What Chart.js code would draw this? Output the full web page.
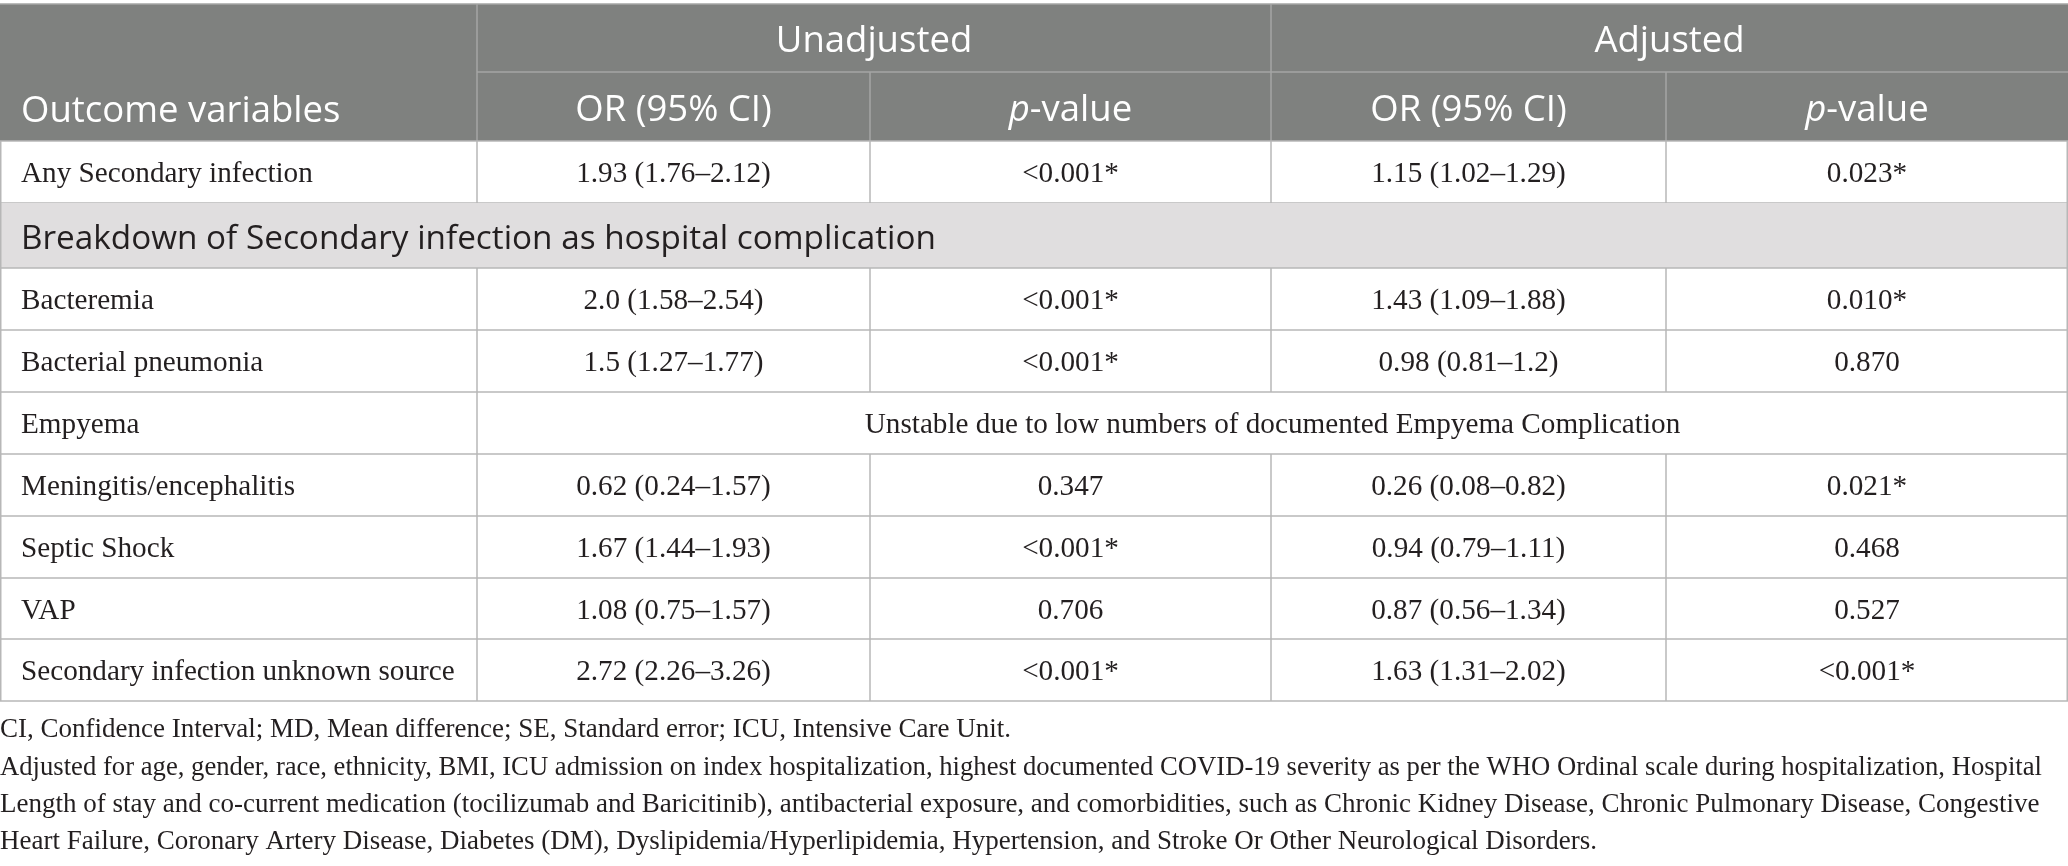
<!DOCTYPE html>
<html>
<head>
<meta charset="utf-8">
<script src="https://cdn.jsdelivr.net/npm/chart.js@4.4.1/dist/chart.umd.min.js"></script>
<style>
  html, body { margin: 0; padding: 0; background: #fff; }
  canvas { display: block; }
</style>
</head>
<body>
<canvas id="table" width="2068" height="866"></canvas>
<script>
// table content
const groupHeaders = ['Unadjusted', 'Adjusted'];
const columnHeaders = ['Outcome variables', 'OR (95% CI)', 'p-value', 'OR (95% CI)', 'p-value'];
const sectionTitle = 'Breakdown of Secondary infection as hospital complication';
const sectionBefore = 1; // section row goes before this outcome
const outcomes = [
  'Any Secondary infection',
  'Bacteremia',
  'Bacterial pneumonia',
  'Empyema',
  'Meningitis/encephalitis',
  'Septic Shock',
  'VAP',
  'Secondary infection unknown source'
];
const unadjustedOR = ['1.93 (1.76–2.12)', '2.0 (1.58–2.54)', '1.5 (1.27–1.77)', null, '0.62 (0.24–1.57)', '1.67 (1.44–1.93)', '1.08 (0.75–1.57)', '2.72 (2.26–3.26)'];
const unadjustedP = ['<0.001*', '<0.001*', '<0.001*', null, '0.347', '<0.001*', '0.706', '<0.001*'];
const adjustedOR = ['1.15 (1.02–1.29)', '1.43 (1.09–1.88)', '0.98 (0.81–1.2)', null, '0.26 (0.08–0.82)', '0.94 (0.79–1.11)', '0.87 (0.56–1.34)', '1.63 (1.31–2.02)'];
const adjustedP = ['0.023*', '0.010*', '0.870', null, '0.021*', '0.468', '0.527', '<0.001*'];
const unstableNote = 'Unstable due to low numbers of documented Empyema Complication';
const footnotes = [
  'CI, Confidence Interval; MD, Mean difference; SE, Standard error; ICU, Intensive Care Unit.',
  'Adjusted for age, gender, race, ethnicity, BMI, ICU admission on index hospitalization, highest documented COVID-19 severity as per the WHO Ordinal scale during hospitalization, Hospital',
  'Length of stay and co-current medication (tocilizumab and Baricitinib), antibacterial exposure, and comorbidities, such as Chronic Kidney Disease, Chronic Pulmonary Disease, Congestive',
  'Heart Failure, Coronary Artery Disease, Diabetes (DM), Dyslipidemia/Hyperlipidemia, Hypertension, and Stroke Or Other Neurological Disorders.'
];

// layout, in scale units
const colEdges = [0, 477, 870, 1271, 1666, 2068];
const rowEdges = [4, 72, 141, 203, 268, 330, 392, 454, 516, 578, 639, 701];
const footnoteY = [730, 768, 805, 842];
const footnoteWidth = 2042;
const textPad = 21;

const headerBg = '#7f817f';
const sectionBg = '#e0dedf';
const headerLine = '#a4a6a4';
const gridLine = '#b7b7b7';
const inkColor = '#231f20';
const sansFont = '"Open Sans", sans-serif';
const serifFont = '"Liberation Serif", serif';
const headFont = '36.5px ' + sansFont;
const sectionFont = '33.3px ' + sansFont;
const bodyFont = '29.2px ' + serifFont;
const noteFont = '27px ' + serifFont;

const tablePlugin = {
  id: 'tableCells',
  afterDraw(chart) {
    const { ctx, scales: { x, y } } = chart;
    const px = v => x.getPixelForValue(v);
    const py = v => y.getPixelForValue(v);

    const box = (x0, y0, x1, y1, color) => {
      ctx.fillStyle = color;
      ctx.fillRect(px(x0), py(y0), px(x1) - px(x0), py(y1) - py(y0));
    };
    const line = (x0, y0, x1, y1, color) => {
      ctx.strokeStyle = color;
      ctx.lineWidth = 1.5;
      ctx.beginPath();
      ctx.moveTo(px(x0), py(y0));
      ctx.lineTo(px(x1), py(y1));
      ctx.stroke();
    };
    const text = (str, cx, cy, align, font, color, maxW) => {
      ctx.font = font;
      ctx.fillStyle = color;
      ctx.textAlign = align;
      ctx.textBaseline = 'middle';
      if (maxW) ctx.fillText(str, px(cx), py(cy), maxW);
      else ctx.fillText(str, px(cx), py(cy));
    };
    // "p-value" with an italic p, centred as one piece
    const pValue = (cx, cy) => {
      const italic = 'italic ' + headFont;
      ctx.font = italic;
      const w1 = ctx.measureText('p').width;
      ctx.font = headFont;
      const w2 = ctx.measureText('-value').width;
      const left = px(cx) - (w1 + w2) / 2;
      ctx.fillStyle = '#fff';
      ctx.textBaseline = 'middle';
      ctx.textAlign = 'left';
      ctx.font = italic;
      ctx.fillText('p', left, py(cy));
      ctx.font = headFont;
      ctx.fillText('-value', left + w1, py(cy));
    };
    const mid = (a, b) => (a + b) / 2;
    const right = colEdges[colEdges.length - 1];

    ctx.save();

    // header block
    box(0, rowEdges[0], right, rowEdges[2], headerBg);
    line(colEdges[1], rowEdges[1], right, rowEdges[1], headerLine);
    line(colEdges[1], rowEdges[0], colEdges[1], rowEdges[2], headerLine);
    line(colEdges[3], rowEdges[0], colEdges[3], rowEdges[2], headerLine);
    line(colEdges[2], rowEdges[1], colEdges[2], rowEdges[2], headerLine);
    line(colEdges[4], rowEdges[1], colEdges[4], rowEdges[2], headerLine);

    const topY = mid(rowEdges[0], rowEdges[1]) + 4;
    const subY = mid(rowEdges[1], rowEdges[2]) + 4;
    text(groupHeaders[0], mid(colEdges[1], colEdges[3]), topY, 'center', headFont, '#fff');
    text(groupHeaders[1], mid(colEdges[3], colEdges[5]), topY, 'center', headFont, '#fff');
    text(columnHeaders[0], textPad, subY + 1, 'left', headFont, '#fff');
    for (let c = 1; c < columnHeaders.length; c++) {
      const cx = mid(colEdges[c], colEdges[c + 1]);
      if (columnHeaders[c] === 'p-value') pValue(cx, subY);
      else text(columnHeaders[c], cx, subY, 'center', headFont, '#fff');
    }

    // body rows
    const body = [];
    outcomes.forEach((name, i) => {
      if (i === sectionBefore) body.push({ section: true });
      body.push({ i });
    });
    body.forEach((row, k) => {
      const y0 = rowEdges[2 + k];
      const y1 = rowEdges[3 + k];
      const cy = mid(y0, y1) + 2.5;
      if (row.section) {
        box(0, y0, right, y1, sectionBg);
        text(sectionTitle, textPad, mid(y0, y1) + 4, 'left', sectionFont, inkColor);
      } else {
        const i = row.i;
        text(outcomes[i], textPad, cy, 'left', bodyFont, inkColor);
        const cells = [unadjustedOR[i], unadjustedP[i], adjustedOR[i], adjustedP[i]];
        if (cells.every(v => v === null)) {
          text(unstableNote, mid(colEdges[1], right), cy, 'center', bodyFont, inkColor);
          line(colEdges[1], y0, colEdges[1], y1, gridLine);
        } else {
          cells.forEach((v, c) => {
            text(v, mid(colEdges[c + 1], colEdges[c + 2]), cy, 'center', bodyFont, inkColor);
          });
          for (let c = 1; c < colEdges.length - 1; c++) line(colEdges[c], y0, colEdges[c], y1, gridLine);
        }
      }
      line(0, y1, right, y1, gridLine);
    });
    line(0, rowEdges[2], right, rowEdges[2], gridLine);
    line(0.75, rowEdges[2], 0.75, rowEdges[rowEdges.length - 1], gridLine);
    line(right - 0.75, rowEdges[2], right - 0.75, rowEdges[rowEdges.length - 1], gridLine);
    line(0, rowEdges[0], right, rowEdges[0], headerLine);

    // notes under the table
    footnotes.forEach((note, i) => {
      text(note, 0, footnoteY[i], 'left', noteFont, inkColor, footnoteWidth);
    });

    ctx.restore();
  }
};

new Chart(document.getElementById('table'), {
  type: 'scatter',
  data: { datasets: [{ data: [] }] },
  options: {
    responsive: false,
    animation: false,
    devicePixelRatio: 1,
    layout: { padding: 0 },
    plugins: { legend: { display: false }, tooltip: { enabled: false } },
    scales: {
      x: { type: 'linear', min: 0, max: 2068, display: false },
      y: { type: 'linear', min: 0, max: 866, reverse: true, display: false }
    }
  },
  plugins: [tablePlugin]
});
</script>
</body>
</html>
